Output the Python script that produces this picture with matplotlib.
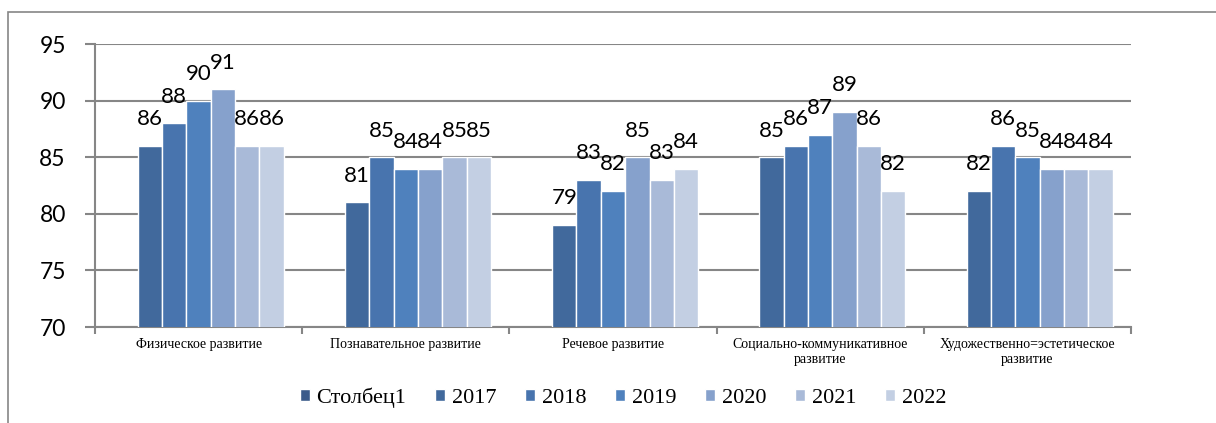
import numpy as np
import matplotlib.pyplot as plt
from matplotlib.patches import Rectangle

# Данные
categories = ["Физическое развитие", "Познавательное развитие", "Речевое развитие",
              "Социально-коммуникативное\nразвитие", "Художественно=эстетическое\nразвитие"]
series_names = ["Столбец1", "2017", "2018", "2019", "2020", "2021", "2022"]
col1 = [None, None, None, None, None]
y2017 = [86, 81, 79, 85, 82]
y2018 = [88, 85, 83, 86, 86]
y2019 = [90, 84, 82, 87, 85]
y2020 = [91, 84, 85, 89, 84]
y2021 = [86, 85, 83, 86, 84]
y2022 = [86, 85, 84, 82, 84]
yticks = [70, 75, 80, 85, 90, 95]

series = [col1, y2017, y2018, y2019, y2020, y2021, y2022]
colors = ['#3B5B8A', '#41699C', '#4874AE', '#4F81BD', '#86A1CC', '#A9BAD8', '#C3CFE3']

fig = plt.figure(figsize=(12.16, 4.23), dpi=100)
ax = fig.add_axes([95/1216, 1 - 327/423, (1131 - 95)/1216, (327 - 44)/423])

x = np.arange(len(categories))
w = 0.1175
for j, (name, vals) in enumerate(zip(series_names, series)):
    h = [np.nan if v is None else v for v in vals]
    pos = x + (j - 3) * w
    ax.bar(pos, h, w, color=colors[j], edgecolor='white', linewidth=1.0,
           label=name, zorder=3)
    for xi, v in zip(pos, vals):
        if v is None:
            continue
        ax.annotate(str(v), (xi, v), xytext=(0, 12), textcoords='offset points',
                    ha='center', va='bottom', fontsize=16, family='Lato',
                    color='black', zorder=4)

ax.set_ylim(70, 95)
ax.set_xlim(-0.5, len(categories) - 0.5)
ax.set_yticks(yticks)
ax.set_yticklabels([str(t) for t in yticks], fontsize=16.5, family='Lato')
ax.yaxis.grid(True, color='#868686', linewidth=1.5, zorder=0)
ax.tick_params(axis='y', length=7, width=1.5, color='#868686', pad=14)

ax.set_xticks(x)
ax.set_xticklabels(categories, fontsize=10, family='Liberation Serif',
                   linespacing=1.15)
ax.tick_params(axis='x', length=0, pad=8)
ax.set_xticks(np.arange(len(categories) + 1) - 0.5, minor=True)
ax.tick_params(axis='x', which='minor', length=5, width=1.5, color='#868686')

for s in ['top', 'right']:
    ax.spines[s].set_visible(False)
for s in ['left', 'bottom']:
    ax.spines[s].set_color('#868686')
    ax.spines[s].set_linewidth(1.5)

leg = fig.legend(loc='center', bbox_to_anchor=(623/1216, 1 - 398/423), ncol=7,
                 frameon=False, prop={'family': 'Liberation Serif', 'size': 16},
                 handlelength=0.45, handleheight=0.45, handletextpad=0.3,
                 columnspacing=1.3)

fig.patches.append(Rectangle((8/1216, -0.1), 1.2, 1.1 - 12/423, transform=fig.transFigure,
                             fill=False, edgecolor='#868686', linewidth=1.2))

fig.savefig('out.png', dpi=100)
